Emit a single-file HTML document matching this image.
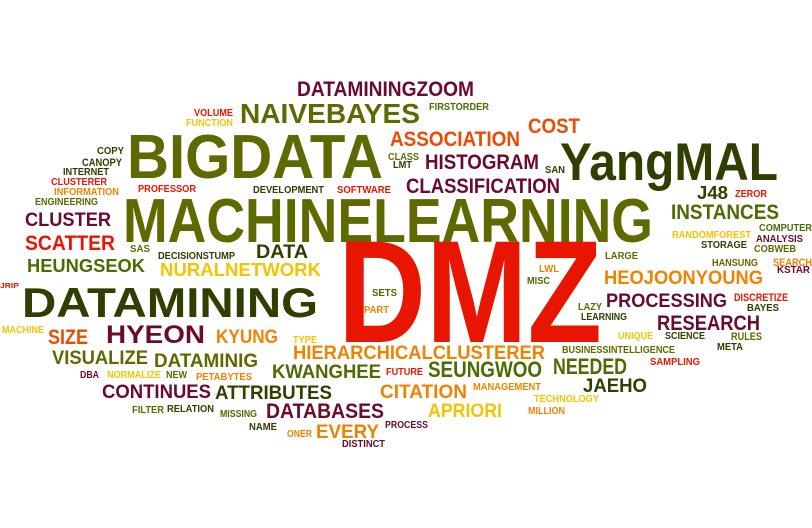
<!DOCTYPE html>
<html><head><meta charset="utf-8"><style>
html,body{margin:0;padding:0;background:#fff;width:812px;height:528px;overflow:hidden}
svg text{font-family:"Liberation Sans",sans-serif;font-weight:bold}
</style></head><body>
<svg id="cloud" width="812" height="528" xmlns="http://www.w3.org/2000/svg"></svg>
<script>
const C={ol:'#5e6a00',dg:'#2e3f00',gr:'#4c6b00',ma:'#6b0a2b',rd:'#e81500',or:'#f08200',ye:'#f5c400',ro:'#f04a00'};
// word, left, baseline, capHeight, width, color
const words=[
["DATAMININGZOOM",297,96,15,177,'ma'],["VOLUME",194,116,7,39,'rd'],["FUNCTION",186,126,7,47,'ye'],
["NAIVEBAYES",240,123,20,180,'ol'],["FIRSTORDER",429,110,7,60,'gr'],["BIGDATA",127,178,45,256,'ol'],
["ASSOCIATION",390,146,15,130,'ro'],["COST",528,133,15,52,'ro'],["CLASS",388,160,7,31,'ol'],["LMT",393,168,7,19,'dg'],
["HISTOGRAM",425,169,15,114,'ma'],["SAN",545,173,7,20,'dg'],["YangMAL",560,180,38,218,'dg'],
["CLASSIFICATION",406,193,15,154,'ma'],["J48",697,199,13,31,'dg'],["ZEROR",735,197,7,32,'rd'],
["COPY",97,154,7,27,'dg'],["CANOPY",82,166,8,40,'dg'],["INTERNET",63,175,7,46,'dg'],["CLUSTERER",51,185,7,56,'rd'],
["INFORMATION",54,195,7,65,'or'],["ENGINEERING",35,205,7,63,'ol'],["PROFESSOR",138,192,7,58,'rd'],
["DEVELOPMENT",253,193,7,71,'dg'],["SOFTWARE",337,193,7,54,'rd'],["MACHINELEARNING",123,242,45,530,'ol'],
["CLUSTER",25,226,14,86,'ma'],["SCATTER",25,250,15,90,'rd'],["SAS",130,252,7,20,'ol'],["DECISIONSTUMP",158,259,7,77,'dg'],
["DATA",256,258,14,52,'dg'],["HEUNGSEOK",27,272,13,118,'gr'],["NURALNETWORK",160,276,13,161,'ye'],
["INSTANCES",671,219,15,108,'gr'],["COMPUTER",759,231,7,53,'gr'],["RANDOMFOREST",672,238,7,79,'ye'],
["ANALYSIS",756,242,7,47,'ma'],["STORAGE",701,248,7,46,'dg'],["COBWEB",754,252,7,42,'ol'],["LARGE",605,259,7,33,'ol'],
["HANSUNG",712,266,7,46,'ol'],["SEARCH",773,266,8,39,'or'],["KSTAR",777,273,7,33,'ma'],
["DMZ",338,342,105,264,'rd'],["LWL",539,272,7,20,'or'],["MISC",527,284,7,23,'gr'],
["HEOJOONYOUNG",604,284,14,159,'or'],["PROCESSING",606,307,14,121,'ma'],["DISCRETIZE",734,301,8,54,'rd'],
["BAYES",747,311,7,32,'dg'],["LAZY",578,310,7,24,'ol'],["LEARNING",581,320,7,46,'dg'],["RESEARCH",657,330,15,103,'ma'],
["UNIQUE",618,339,7,35,'ye'],["SCIENCE",665,339,7,40,'dg'],["RULES",731,340,8,31,'ol'],["META",717,350,7,26,'dg'],
["BUSINESSINTELLIGENCE",562,353,7,113,'ol'],["SAMPLING",650,365,7,50,'rd'],["HIERARCHICALCLUSTERER",293,359,14,252,'or'],
["FUTURE",386,375,7,37,'rd'],["SEUNGWOO",428,377,16,114,'gr'],["NEEDED",553,374,16,74,'gr'],["CITATION",380,398,14,87,'or'],
["MANAGEMENT",473,390,7,68,'or'],["JAEHO",583,392,14,64,'dg'],["TECHNOLOGY",534,402,7,65,'ye'],["APRIORI",428,417,14,74,'ye'],
["MILLION",528,414,7,37,'or'],["PROCESS",385,428,7,43,'ma'],["JRIP",0,288,5,19,'rd'],["DATAMINING",22,317,30,296,'dg'],
["SETS",372,296,7,25,'gr'],["PART",364,313,7,25,'or'],["MACHINE",2,333,7,42,'ye'],["SIZE",48,344,15,40,'ro'],
["HYEON",106,343,18,99,'ma'],["KYUNG",216,343,14,62,'or'],["TYPE",293,343,7,24,'ye'],["VISUALIZE",52,364,14,96,'ol'],
["DATAMINIG",154,367,14,104,'ol'],["KWANGHEE",272,378,14,109,'gr'],["DBA",80,378,7,19,'ma'],["NORMALIZE",107,378,7,54,'ye'],
["NEW",166,378,7,21,'ol'],["PETABYTES",196,380,7,56,'or'],["CONTINUES",102,398,14,109,'ma'],["ATTRIBUTES",215,399,14,117,'dg'],
["FILTER",132,413,7,32,'ol'],["RELATION",167,412,7,47,'dg'],["MISSING",220,417,7,37,'gr'],["DATABASES",266,418,15,118,'ma'],
["NAME",249,430,7,28,'dg'],["ONER",287,437,7,25,'or'],["EVERY",316,438,14,63,'or'],["DISTINCT",342,447,7,43,'ma']
];
const svg=document.getElementById('cloud');
for(const w of words){
  const t=document.createElementNS('http://www.w3.org/2000/svg','text');
  t.setAttribute('x',w[1]);t.setAttribute('y',w[2]);
  t.setAttribute('font-size',(w[3]/0.72).toFixed(1));
  t.setAttribute('textLength',w[4]);t.setAttribute('lengthAdjust','spacingAndGlyphs');
  t.setAttribute('fill',C[w[5]]);
  
  
  t.textContent=w[0];
  svg.appendChild(t);
}
</script>
</body></html>
